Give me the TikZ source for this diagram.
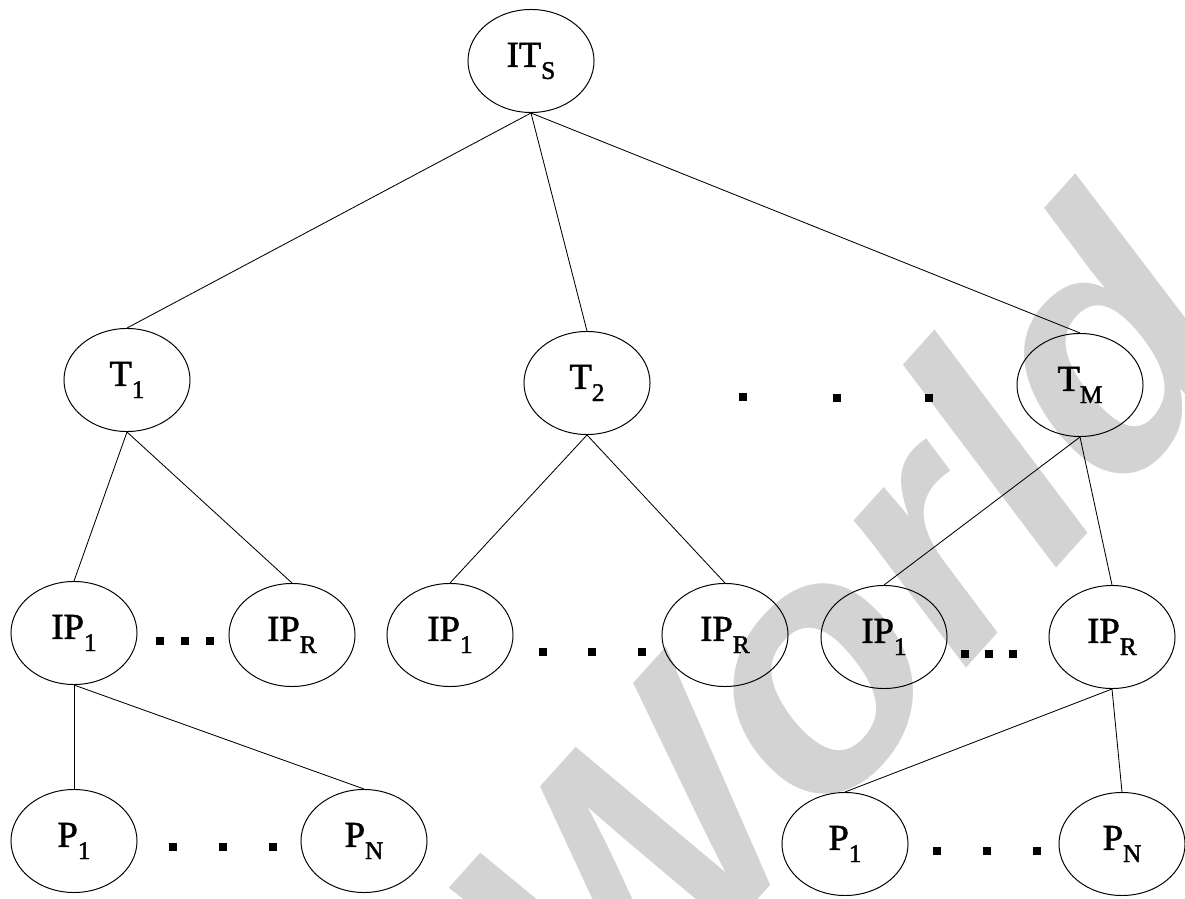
\documentclass[tikz,border=0pt]{standalone}
\usepackage{fontspec}
\setmainfont{Liberation Serif}
\newfontface\labelfont{Liberation Serif}[FakeBold=1.6]
\newfontfamily\wmfont{Liberation Sans}
\usetikzlibrary{shapes.geometric}
\definecolor{wmgray}{RGB}{211,211,211}
\newcommand{\lsub}[1]{\raisebox{-0.33em}{\fontsize{18}{18}\selectfont #1}}

\begin{document}
\begin{tikzpicture}[x=0.025cm, y=-0.025cm,
            proc/.style={ellipse, draw, line width=0.7pt, minimum width=3.15cm, minimum height=2.575cm, inner sep=0pt, font=\labelfont\fontsize{26}{30}\selectfont},
            dotbox/.style={fill, inner sep=0pt, minimum size=0.19cm},
            link/.style={line width=0.6pt}]
            \useasboundingbox (0,0) rectangle (1185,899);
            \fill[white] (0,0) rectangle (1185,899);

            % watermark
            \node[wmgray, rotate=48, inner sep=0pt, font=\wmfont\bfseries\itshape\fontsize{245}{245}\selectfont] (mark) at (841,623) {World};

            \node[proc] (its) at (531,61) {IT\lsub{S}};

            \node[proc] (t1) at (127,380) {T\lsub{1}};
            \node[proc] (t2) at (587,383) {T\lsub{2}};
            \node[proc] (tm) at (1080,385) {T\lsub{M}};

            \node[proc] (ip1a) at (74,633) {IP\lsub{1}};
            \node[proc] (ipra) at (292,635) {IP\lsub{R}};
            \node[proc] (ip1b) at (450,635) {IP\lsub{1}};
            \node[proc] (iprb) at (725,635) {IP\lsub{R}};
            \node[proc] (ip1c) at (884,637) {IP\lsub{1}};
            \node[proc] (iprc) at (1112,637) {IP\lsub{R}};

            \node[proc] (p1a) at (74,841) {P\lsub{1}};
            \node[proc] (pna) at (364,841) {P\lsub{N}};
            \node[proc] (p1c) at (845,844) {P\lsub{1}};
            \node[proc] (pnc) at (1122,844) {P\lsub{N}};

            % dots
            \node[dotbox] (dt1) at (743,397) {};
            \node[dotbox] (dt2) at (837,398) {};
            \node[dotbox] (dt3) at (929,398) {};

            \node[dotbox] (da1) at (160,641) {};
            \node[dotbox] (da2) at (185,641) {};
            \node[dotbox] (da3) at (210,641) {};
            \node[dotbox] (db1) at (543,652) {};
            \node[dotbox] (db2) at (592,652) {};
            \node[dotbox] (db3) at (642,652) {};
            \node[dotbox] (dc1) at (965,654) {};
            \node[dotbox] (dc2) at (989,654) {};
            \node[dotbox] (dc3) at (1013,654) {};

            \node[dotbox] (dpa1) at (173,847) {};
            \node[dotbox] (dpa2) at (223,847) {};
            \node[dotbox] (dpa3) at (273,847) {};
            \node[dotbox] (dpc1) at (937,851) {};
            \node[dotbox] (dpc2) at (987,851) {};
            \node[dotbox] (dpc3) at (1037,851) {};

            % links
            \draw[link] (its.south) -- (t1.north);
            \draw[link] (its.south) -- (t2.north);
            \draw[link] (its.south) -- (tm.north);

            \draw[link] (t1.south) -- (ip1a.north);
            \draw[link] (t1.south) -- (ipra.north);
            \draw[link] (t2.south) -- (ip1b.north);
            \draw[link] (t2.south) -- (iprb.north);
            \draw[link] (tm.south) -- (ip1c.north);
            \draw[link] (tm.south) -- (iprc.north);

            \draw[link] (ip1a.south) -- (p1a.north);
            \draw[link] (ip1a.south) -- (pna.north);
            \draw[link] (iprc.south) -- (p1c.north);
            \draw[link] (iprc.south) -- (pnc.north);
        \end{tikzpicture}
\end{document}
